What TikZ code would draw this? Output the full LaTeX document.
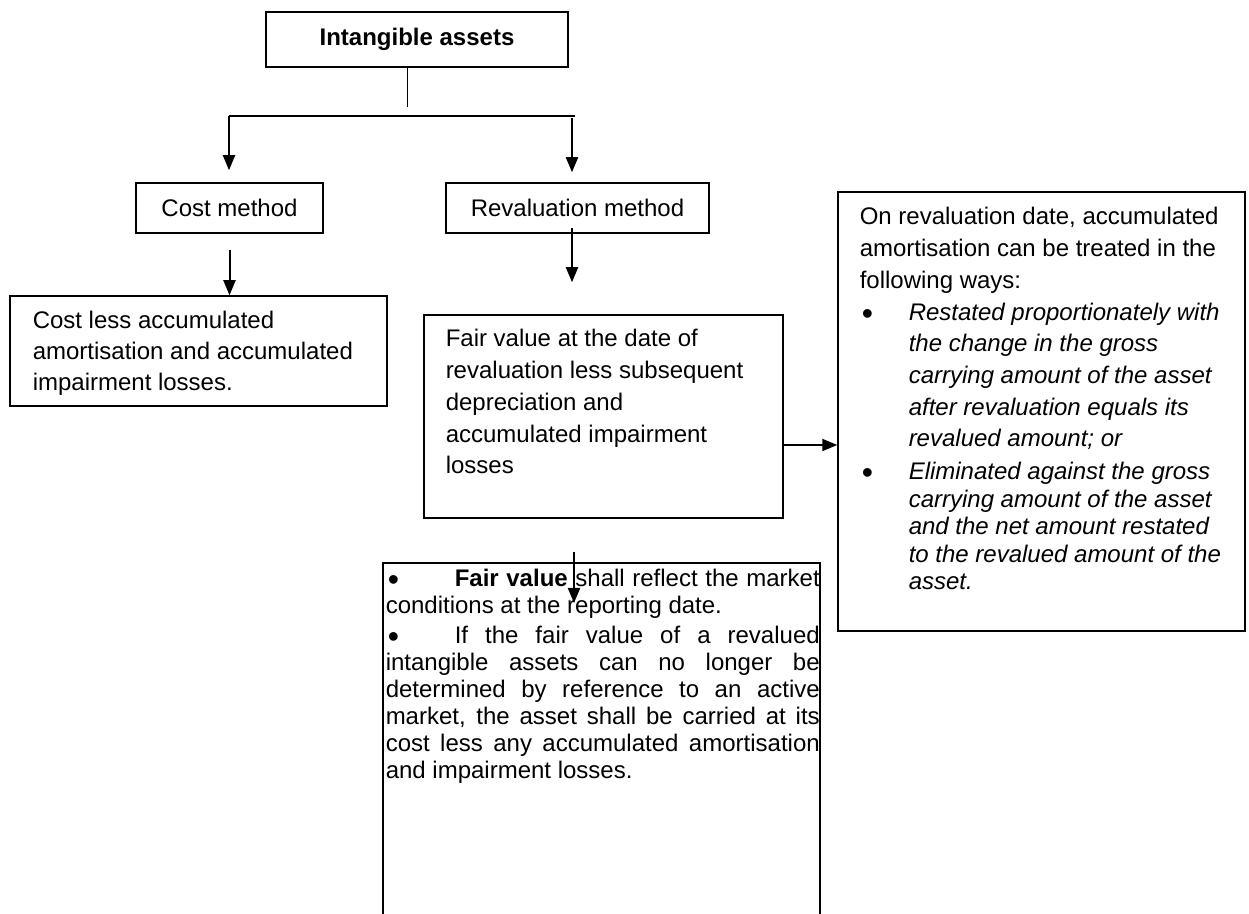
\documentclass[tikz,border=0pt]{standalone}
\usepackage{fontspec}
\setmainfont{Liberation Sans}
\usetikzlibrary{arrows.meta,calc}

\tikzset{every picture/.style={line width=0.75pt}}
\tikzset{
  box/.style={draw, rectangle, inner sep=0pt},
  para/.style={anchor=base west, inner sep=0pt, align=left, text width=#1,
    execute at begin node={\spaceskip=0pt\xspaceskip=0pt}},
  para/.default=200pt,
  arrow/.style={line width=1pt, -{Triangle[length=7.5pt,width=6pt]}},
}
% justified line of given width
\newcommand{\jline}[2]{\makebox[#1][s]{\spaceskip=0pt\xspaceskip=0pt #2}}
% larger bullet
\newcommand{\bul}{{\fontsize{16}{0}\selectfont\raisebox{-2pt}{•}}}

\begin{document}
\begin{tikzpicture}[x=0.5pt,y=0.5pt,yscale=-1,xscale=1,font=\fontsize{12}{15.85}\selectfont]
	\useasboundingbox (0,0) rectangle (1249,914);
	\clip (0,0) rectangle (1249,914);
	
	%Shape: Rectangle [top]
	\node (ia) at (417,39.5) [box, minimum width=151pt, minimum height=27.5pt] {\textbf{Intangible assets}};
	%Shape: Rectangle [cost method]
	\node (cm) at (229.5,208) [box, minimum width=93.5pt, minimum height=25pt] {Cost method};
	%Shape: Rectangle [revaluation method]
	\node (rm) at (577.5,208) [box, minimum width=131.5pt, minimum height=25pt] {Revaluation method};
	%Shape: Rectangle [cost box]
	\node (costbox) at (198.5,351) [box, minimum width=188.5pt, minimum height=55pt] {};
	%Shape: Rectangle [fair value box]
	\node (fvbox) at (603.5,416.5) [box, minimum width=179.5pt, minimum height=101.5pt] {};
	%Shape: Rectangle [right box]
	\node (rbox) at (1041.5,411.5) [box, minimum width=203.5pt, minimum height=219.5pt] {};
	%Shape: Rectangle [bottom box, runs off the page]
	\node (bbox) at (601.5,753.5) [box, line width=1pt, minimum width=218.5pt, minimum height=190.5pt] {};
	
	%Straight Lines [fork]
	\coordinate (fork) at (407,107);
	\coordinate (forkl) at (229,116);
	\coordinate (forkr) at (575,116);
	\coordinate (forkr2) at (572,118);
	\draw [line width=0.5pt] (ia.south -| fork) -- (fork);
	\draw [line width=1pt] (forkl) -- (forkr);
	\draw [arrow] (forkl) -- ($(forkl |- cm.north)+(0,-12)$);
	\draw [arrow] (forkr2) -- ($(forkr2 |- rm.north)+(0,-10)$);
	%Straight Lines [down arrows]
	\draw [arrow] ($(cm.south)+(0,16)$) -- (cm.south |- costbox.north);
	\coordinate (rvs) at (572,228);
	\draw [arrow] (rvs) -- ($(rvs |- fvbox.north)+(0,-32)$);
	\coordinate (fvr) at ($(fvbox.east)+(0,28.5)$);
	\draw [arrow] (fvr) -- (fvr -| rbox.west);
	\coordinate (fvd) at (574,552);
	\draw [arrow] (fvd) -- ($(fvd |- bbox.north)+(0,41)$);
	
	% Text Node
	\node (costtxt) at (32,329) [para=180pt, font=\fontsize{12}{15.5}\selectfont] {Cost less accumulated\\ amortisation and accumulated\\ impairment losses.};
	% Text Node
	\node (fvtxt) at (445,347) [para=175pt] {Fair value at the date of\\ revaluation less subsequent\\ depreciation and\\ accumulated impairment\\ losses};
	% Text Node
	\node (rtxt) at (859,225) [para=190pt] {On revaluation date, accumulated\\ amortisation can be treated in the\\ following ways:\\
		\makebox[24.5pt][l]{\hspace{1pt}\bul}\textit{Restated proportionately with}\\
		\hspace*{24.5pt}\textit{the change in the gross}\\
		\hspace*{24.5pt}\textit{carrying amount of the asset}\\
		\hspace*{24.5pt}\textit{after revaluation equals its}\\
		\hspace*{24.5pt}\textit{revalued amount; or}};
	% Text Node
	\node (rtxt2) at (859,480) [para=190pt, font=\fontsize{12}{13.75}\selectfont] {\makebox[24.5pt][l]{\hspace{1pt}\bul}\textit{Eliminated against the gross}\\
		\hspace*{24.5pt}\textit{carrying amount of the asset}\\
		\hspace*{24.5pt}\textit{and the net amount restated}\\
		\hspace*{24.5pt}\textit{to the revalued amount of the}\\
		\hspace*{24.5pt}\textit{asset.}};
	% Text Node
	\node (bp1) at (385,587) [para=217pt, font=\fontsize{12}{13.5}\selectfont] {\makebox[34.5pt][l]{\hspace{1pt}\bul}\jline{182.5pt}{\textbf{Fair value} shall reflect the market}\\
		conditions at the reporting date.};
	% Text Node
	\node (bp2) at (385,644) [para=217pt, font=\fontsize{12}{13.5}\selectfont] {\makebox[34.5pt][l]{\hspace{1pt}\bul}\jline{182.5pt}{If the fair value of a revalued}\\
		\jline{217pt}{intangible assets can no longer be}\\
		\jline{217pt}{determined by reference to an active}\\
		\jline{217pt}{market, the asset shall be carried at its}\\
		\jline{217pt}{cost less any accumulated amortisation}\\
		and impairment losses.};
	
\end{tikzpicture}
\end{document}
